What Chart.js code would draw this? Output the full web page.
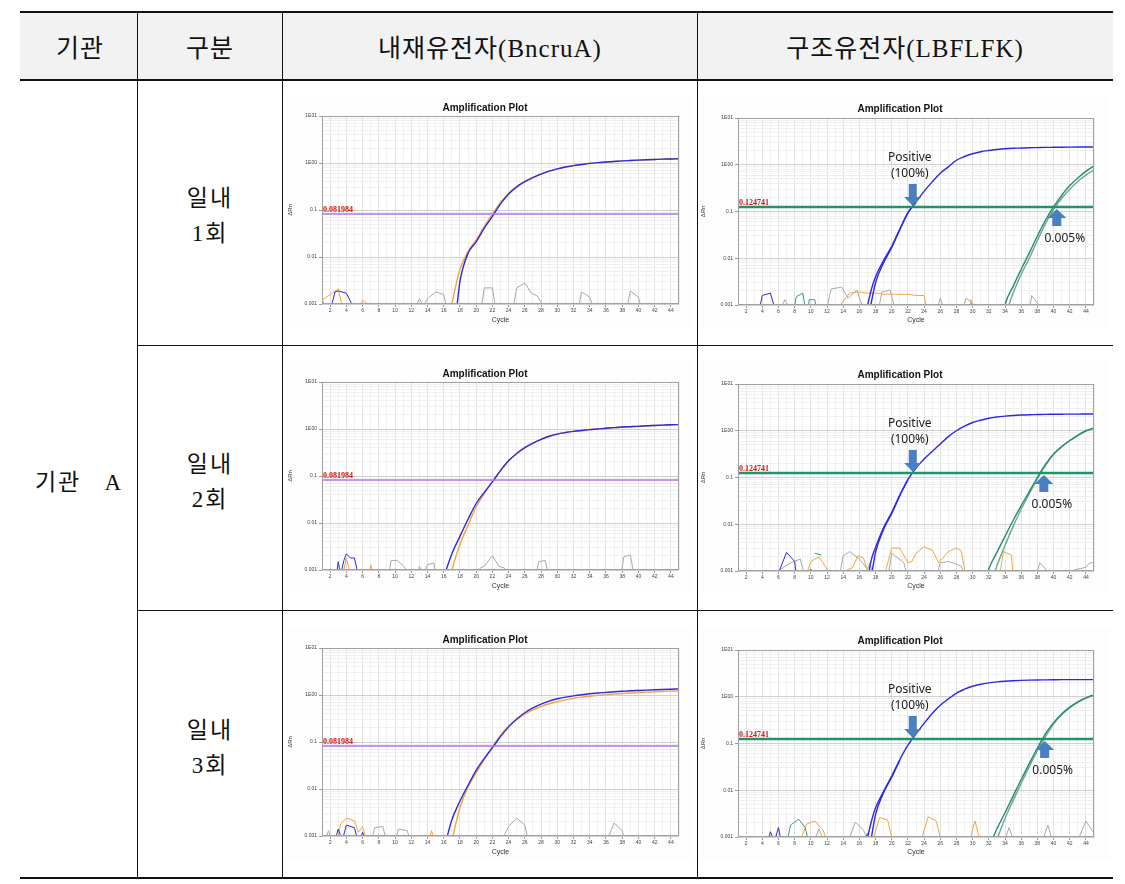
<!DOCTYPE html>
<html><head><meta charset="utf-8">
<script src="https://cdn.jsdelivr.net/npm/chart.js@4.4.1/dist/chart.umd.min.js"></script>
<style>
html,body{margin:0;padding:0;background:#fff;width:1125px;height:884px;overflow:hidden;}
.ln{position:absolute;background:#111;}
.txt{position:absolute;transform:translate(-50%,-50%);white-space:nowrap;font-family:"Liberation Serif","Noto Sans CJK KR",serif;color:#111;}
.hd{font-size:25px;letter-spacing:1px;}
.bd{font-size:23px;letter-spacing:2px;}
.cv{position:absolute;}
</style></head><body>
<div style="position:absolute;left:20px;top:12px;width:1093px;height:68px;background:#f2f2f2"></div>
<div class="ln" style="left:20px;top:11px;width:1093px;height:2px"></div>
<div class="ln" style="left:20px;top:79px;width:1093px;height:2px"></div>
<div class="ln" style="left:20px;top:877px;width:1093px;height:2px"></div>
<div class="ln" style="left:137px;top:12px;width:1px;height:866px"></div>
<div class="ln" style="left:282px;top:12px;width:1px;height:866px"></div>
<div class="ln" style="left:697px;top:12px;width:1px;height:866px"></div>
<div class="ln" style="left:138px;top:345px;width:975px;height:1px"></div>
<div class="ln" style="left:138px;top:610px;width:975px;height:1px"></div>

<div class="txt hd" style="left:80px;top:46px">기관</div>
<div class="txt hd" style="left:210px;top:46px">구분</div>
<div class="txt hd" style="left:490px;top:46px">내재유전자(BncruA)</div>
<div class="txt hd" style="left:905px;top:46px">구조유전자(LBFLFK)</div>
<div class="txt bd" style="left:79px;top:480px">기관&nbsp;&nbsp;&nbsp;A</div>
<div class="txt bd" style="left:210px;top:196px">일내</div>
<div class="txt bd" style="left:210px;top:231px">1회</div>
<div class="txt bd" style="left:210px;top:462px">일내</div>
<div class="txt bd" style="left:210px;top:497px">2회</div>
<div class="txt bd" style="left:210px;top:728px">일내</div>
<div class="txt bd" style="left:210px;top:763px">3회</div>

<canvas id="c1l" class="cv" width="406" height="232" style="left:287px;top:95px"></canvas>
<canvas id="c1r" class="cv" width="410" height="232" style="left:700px;top:95px"></canvas>
<canvas id="c2l" class="cv" width="406" height="232" style="left:287px;top:361px"></canvas>
<canvas id="c2r" class="cv" width="410" height="232" style="left:700px;top:361px"></canvas>
<canvas id="c3l" class="cv" width="406" height="232" style="left:287px;top:627px"></canvas>
<canvas id="c3r" class="cv" width="410" height="232" style="left:700px;top:627px"></canvas>

<script>
// ---------- axes ----------
const CYCLE_MIN = 1, CYCLE_MAX = 45;
const X_LABELED = [2,4,6,8,10,12,14,16,18,20,22,24,26,28,30,32,34,36,38,40,42,44];
const Y_MAJOR = [0.001,0.01,0.1,1,10];
const Y_MAJOR_LABELS = ['0.001','0.01','0.1','1E00','1E01'];
const Y_MINOR = [0.002,0.003,0.004,0.005,0.006,0.007,0.008,0.009,0.02,0.03,0.04,0.05,0.06,0.07,0.08,0.09,0.2,0.3,0.4,0.5,0.6,0.7,0.8,0.9,2,3,4,5,6,7,8,9];
const THRESHOLD_BNCRUA = 0.081984;
const THRESHOLD_LBFLFK = 0.124741;
const THRESHOLD_BNCRUA_LABEL = '0.081984';
const THRESHOLD_LBFLFK_LABEL = '0.124741';
const POSITIVE_ARROW_CYCLE = [22.6, 22.6, 22.6];
const LOW_ARROW_CYCLE = [40.4, 38.8, 38.9];

// ---------- row 1 ----------
const R1L_BLUE = [[17.6,0.0008],[18,0.003],[19,0.012],[20,0.021],[21,0.041],[22,0.073],[23,0.135],[24,0.22],[25,0.31],[26,0.40],[27,0.49],[28,0.58],[29,0.67],[30,0.75],[31,0.82],[32,0.88],[33,0.93],[34,0.98],[35,1.02],[36,1.05],[37,1.08],[38,1.11],[39,1.13],[40,1.15],[41,1.17],[42,1.19],[43,1.21],[44,1.22],[45,1.23]];
const R1L_ORANGE = [[16.9,0.0008],[17.5,0.0025],[18,0.0055],[19,0.013],[20,0.023],[21,0.045],[22,0.082],[23,0.145],[24,0.225],[25,0.315],[26,0.405],[27,0.495],[28,0.585],[29,0.67],[30,0.75],[31,0.82],[32,0.88],[33,0.93],[34,0.98],[35,1.02],[36,1.05],[37,1.08],[38,1.11],[39,1.13],[40,1.15],[41,1.17],[42,1.19],[43,1.21],[44,1.22],[45,1.23]];
const R1L_NOISE_BLUE = [[1,0.0013],[1.3,0.0008],[2,0.0007],[2.6,0.0018],[3,0.0019],[4,0.0017],[4.8,0.0009]];
const R1L_NOISE_ORANGE = [[1,0.0012],[2,0.0016],[3,0.0021],[3.5,0.0009],[5.5,0.0008],[6,0.0012],[7,0.0009]];
const R1L_NOISE_GRAY = [[12.5,0.0008],[13,0.0013],[13.5,0.0009],[14,0.0013],[15,0.0018],[16,0.0016],[16.5,0.0007],[20.5,0.0006],[21,0.0022],[22,0.0022],[22.5,0.0006],[24.5,0.0007],[25,0.0022],[26,0.0028],[26.8,0.0017],[27.5,0.0015],[28,0.0011],[28.5,0.0006],[32.5,0.0007],[33,0.0018],[34,0.0014],[34.5,0.0008],[38.5,0.0007],[39,0.0019],[40,0.0014],[40.3,0.0009]];

const R1R_BLUE = [[16.9,0.0008],[17.5,0.0022],[18,0.004],[19,0.009],[20,0.018],[21,0.042],[22,0.095],[23,0.16],[24,0.27],[25,0.43],[26,0.66],[27,0.9],[28,1.25],[29,1.5],[30,1.72],[31,1.9],[32,2.02],[33,2.12],[34,2.2],[35,2.25],[36,2.28],[37,2.31],[38,2.33],[39,2.35],[40,2.36],[41,2.37],[42,2.38],[43,2.39],[44,2.4],[45,2.4]];
const R1R_BLUE2 = [[17.3,0.0008],[18,0.003],[19,0.008],[20,0.017],[21,0.041],[22,0.092],[23,0.158]];
const R1R_GREEN1 = [[33.9,0.0008],[34,0.001],[35,0.0025],[36,0.0058],[37,0.013],[38,0.03],[39,0.065],[40,0.125],[41,0.22],[42,0.36],[43,0.52],[44,0.72],[45,0.95]];
const R1R_GREEN2 = [[34.3,0.0008],[35,0.0018],[36,0.0045],[37,0.01],[38,0.024],[39,0.055],[40,0.11],[41,0.19],[42,0.3],[43,0.44],[44,0.6],[45,0.78]];
const R1R_NOISE_BLUE = [[3.5,0.0006],[4,0.0016],[5,0.0018],[5.8,0.0006]];
const R1R_NOISE_TEAL = [[7.8,0.0006],[8.2,0.0015],[9,0.0018],[9.5,0.0006],[9.6,0.0006],[9.8,0.0013],[10.5,0.0013],[10.8,0.0006]];
const R1R_NOISE_GRAY = [[5.8,0.0006],[6.8,0.0013],[7.6,0.0007],[11.8,0.0006],[12.5,0.0022],[13.8,0.0024],[14.6,0.0014],[15.7,0.0021],[16.6,0.0007],[18.3,0.0007],[18.8,0.0019],[19.8,0.0021],[20.5,0.0007],[25.5,0.0007],[26,0.0014],[26.6,0.0007],[28.7,0.0007],[29.2,0.0014],[30,0.0011],[30.3,0.0006],[37,0.0007],[37.3,0.0016],[38,0.0011],[38.3,0.0007]];
const R1R_NOISE_ORANGE = [[13,0.0007],[14,0.0012],[14.8,0.0018],[16,0.0019],[17,0.0018],[18,0.0018],[19,0.0017],[20,0.0017],[21,0.0017],[22,0.0017],[23,0.0016],[24,0.0016],[24.5,0.0006],[29.5,0.0006],[29.8,0.0013],[30,0.0006],[35.2,0.0009],[36,0.0009],[36.2,0.0006]];

// ---------- row 2 ----------
const R2L_BLUE = [[16.1,0.0008],[17,0.0022],[18,0.0052],[19,0.012],[20,0.026],[21,0.045],[22,0.075],[23,0.13],[24,0.21],[25,0.3],[26,0.4],[27,0.5],[28,0.6],[29,0.7],[30,0.78],[31,0.84],[32,0.89],[33,0.93],[34,0.97],[35,1.0],[36,1.04],[37,1.07],[38,1.1],[39,1.12],[40,1.14],[41,1.17],[42,1.19],[43,1.21],[44,1.23],[45,1.24]];
const R2L_ORANGE = [[16.9,0.0008],[17.3,0.0015],[18,0.0035],[19,0.009],[20,0.022],[21,0.042],[22,0.075],[23,0.13],[24,0.21],[25,0.3],[26,0.4],[27,0.5],[28,0.6],[29,0.7],[30,0.78],[31,0.84],[32,0.89],[33,0.93],[34,0.97],[35,1.0],[36,1.04],[37,1.07],[38,1.1],[39,1.12],[40,1.14],[41,1.17],[42,1.19],[43,1.21],[44,1.23],[45,1.24]];
const R2L_NOISE_BLUE = [[2.7,0.0006],[3,0.0015],[3.3,0.0008],[3.7,0.0016],[4,0.0022],[4.5,0.0018],[5,0.0018],[5.6,0.0006]];
const R2L_NOISE_ORANGE = [[3.5,0.0007],[4,0.0018],[4.6,0.0007],[6.8,0.0007],[7,0.0013],[7.4,0.0007]];
const R2L_NOISE_GRAY = [[9.2,0.0007],[9.5,0.0016],[10.3,0.0016],[11.3,0.0011],[11.8,0.0007],[12.7,0.0007],[13,0.0012],[13.5,0.0008],[14,0.0013],[14.8,0.0014],[15,0.0007],[20,0.0007],[20.5,0.0011],[21,0.0012],[22,0.002],[22.8,0.0012],[23.5,0.0011],[23.8,0.0007],[27.3,0.0007],[27.7,0.0015],[28.5,0.0016],[29,0.0007],[37.8,0.0007],[38.2,0.0019],[39,0.0021],[39.5,0.0007]];

const R2R_BLUE = [[17.1,0.0008],[17.5,0.0018],[18,0.0032],[19,0.0085],[20,0.018],[21,0.042],[22,0.09],[23,0.16],[24,0.25],[25,0.36],[26,0.52],[27,0.75],[28,1.0],[29,1.25],[30,1.5],[31,1.68],[32,1.85],[33,1.97],[34,2.05],[35,2.12],[36,2.17],[37,2.2],[38,2.22],[39,2.24],[40,2.25],[41,2.26],[42,2.27],[43,2.27],[44,2.28],[45,2.28]];
const R2R_BLUE2 = [[17.5,0.0008],[18,0.0025],[19,0.0078],[20,0.017],[21,0.041],[22,0.089]];
const R2R_GREEN1 = [[31.8,0.0008],[32,0.0011],[33,0.0025],[34,0.0055],[35,0.012],[36,0.025],[37,0.05],[38,0.1],[39,0.19],[40,0.32],[41,0.46],[42,0.62],[43,0.8],[44,1.0],[45,1.15]];
const R2R_GREEN2 = [[32.6,0.0008],[33,0.0013],[34,0.0035],[35,0.009],[36,0.021],[37,0.045],[38,0.095],[39,0.18],[40,0.31],[41,0.45],[42,0.61],[43,0.79],[44,0.98],[45,1.13]];
const R2R_NOISE_BLUE = [[5.6,0.0006],[7,0.0025],[8,0.0016],[8.3,0.0006],[9.6,0.0006],[10,0.0011],[10.3,0.0006]];
const R2R_NOISE_TEAL = [[10.5,0.0024],[11.3,0.0022]];
const R2R_NOISE_GRAY = [[4.5,0.0007],[7.5,0.0015],[8.7,0.0018],[9.4,0.0006],[13.5,0.0007],[14,0.0021],[14.8,0.0026],[16,0.0018],[17,0.0011],[17.3,0.0015],[17.8,0.0007],[19.5,0.0007],[20,0.0024],[21.5,0.0015],[22,0.0007],[25.5,0.0007],[26,0.0015],[27,0.0016],[28.5,0.0013],[29.4,0.0007],[37.8,0.0007],[38.3,0.0015],[39,0.0011],[39.3,0.0007],[43,0.0011],[44,0.0012],[44.5,0.0015],[45,0.0015]];
const R2R_NOISE_ORANGE = [[9.3,0.0007],[10,0.0016],[11,0.002],[12,0.0011],[12.3,0.0007],[15.2,0.0012],[15.8,0.0021],[16.5,0.0019],[17.3,0.0007],[19,0.0007],[20,0.0031],[21,0.0031],[22,0.0015],[22.5,0.0016],[23,0.0024],[24,0.0033],[25,0.0028],[25.8,0.0015],[27,0.0026],[28,0.0031],[28.6,0.0027],[29.2,0.0007],[33.3,0.0007],[33.8,0.0026],[34.8,0.0022],[35,0.0007]];

// ---------- row 3 ----------
const R3L_BLUE = [[16.3,0.0008],[17,0.0022],[18,0.0055],[19,0.012],[20,0.025],[21,0.045],[22,0.075],[23,0.13],[24,0.21],[25,0.31],[26,0.42],[27,0.53],[28,0.64],[29,0.74],[30,0.83],[31,0.9],[32,0.96],[33,1.01],[34,1.06],[35,1.1],[36,1.14],[37,1.17],[38,1.2],[39,1.23],[40,1.25],[41,1.27],[42,1.29],[43,1.31],[44,1.33],[45,1.35]];
const R3L_ORANGE = [[17,0.0008],[18,0.004],[19,0.011],[20,0.022],[21,0.042],[22,0.08],[23,0.14],[24,0.22],[25,0.3],[26,0.39],[27,0.48],[28,0.57],[29,0.65],[30,0.72],[31,0.79],[32,0.85],[33,0.9],[34,0.94],[35,0.98],[36,1.02],[37,1.05],[38,1.08],[39,1.1],[40,1.13],[41,1.15],[42,1.17],[43,1.19],[44,1.21],[45,1.22]];
const R3L_NOISE_BLUE = [[2.5,0.0007],[3,0.0014],[3.5,0.0008],[4,0.0017],[5,0.0015],[5.5,0.0007],[6,0.0012],[6.5,0.0007]];
const R3L_NOISE_ORANGE = [[2.8,0.0007],[3.3,0.0018],[4,0.0024],[5,0.0021],[5.5,0.0012],[6,0.0016],[6.6,0.0007],[14,0.0007],[14.5,0.0013],[15,0.0007]];
const R3L_NOISE_GRAY = [[1.3,0.0007],[1.8,0.0013],[2.3,0.0007],[7,0.0007],[7.5,0.0015],[8.5,0.0016],[9,0.0007],[10,0.0007],[10.4,0.0014],[11.5,0.0013],[12,0.0007],[23,0.0007],[24,0.0016],[25,0.0024],[26,0.0017],[26.5,0.0007],[36,0.0007],[37,0.0019],[38,0.0013],[38.4,0.0007]];

const R3R_BLUE = [[16.9,0.0008],[17.5,0.0022],[18,0.0042],[19,0.0095],[20,0.02],[21,0.045],[22,0.092],[23,0.16],[24,0.27],[25,0.44],[26,0.66],[27,0.9],[28,1.2],[29,1.45],[30,1.68],[31,1.85],[32,1.98],[33,2.08],[34,2.15],[35,2.2],[36,2.24],[37,2.27],[38,2.29],[39,2.3],[40,2.31],[41,2.32],[42,2.32],[43,2.33],[44,2.33],[45,2.33]];
const R3R_BLUE2 = [[17.4,0.0008],[18,0.003],[19,0.009],[20,0.019],[21,0.044]];
const R3R_GREEN1 = [[32.3,0.0008],[33,0.0015],[34,0.0033],[35,0.0075],[36,0.017],[37,0.037],[38,0.08],[39,0.16],[40,0.28],[41,0.43],[42,0.6],[43,0.78],[44,0.95],[45,1.1]];
const R3R_GREEN2 = [[32.9,0.0008],[33.5,0.0015],[34,0.0025],[35,0.006],[36,0.014],[37,0.032],[38,0.07],[39,0.14],[40,0.26],[41,0.41],[42,0.58],[43,0.76],[44,0.93],[45,1.08]];
const R3R_NOISE_BLUE = [[4.6,0.0007],[5,0.0013],[5.5,0.0008],[6,0.0016],[6.4,0.0007],[16.5,0.0007],[17,0.0012]];
const R3R_NOISE_TEAL = [[7,0.0007],[7.5,0.0018],[8.5,0.0024],[9.3,0.0016],[9.8,0.0007]];
const R3R_NOISE_ORANGE = [[8.5,0.0007],[9.5,0.0019],[10.5,0.0022],[11.5,0.0014],[12.2,0.0007],[17.5,0.0007],[18.5,0.0026],[19.5,0.0023],[20.2,0.0007],[23.5,0.0007],[24.5,0.0027],[25.5,0.0022],[26.2,0.0007],[29.5,0.0007],[30.3,0.0022],[31,0.0007]];
const R3R_NOISE_GRAY = [[10.3,0.0007],[11,0.0015],[11.8,0.0007],[14.5,0.0007],[15.5,0.0021],[16.5,0.0014],[17.3,0.0007],[33.8,0.0007],[34.5,0.0016],[35.2,0.0007],[38.5,0.0007],[39.3,0.0018],[40,0.0007],[42.8,0.0007],[44,0.0022],[45,0.0012]];

// ---------- drawing ----------
const C_BLUE = '#2a2ae0', C_ORANGE = '#f3a640', C_GRAY = '#a9a9a9', C_TEAL = '#34a080',
      C_GREEN1 = '#2b8a6c', C_GREEN2 = '#6aa895', C_ARROW = '#4a7fc1';

const plotPlugin = {
  id: 'plotDeco',
  beforeDraw(chart) {
    const {ctx, width, height, chartArea: a} = chart;
    ctx.save();
    ctx.fillStyle = '#fdfdfd'; ctx.fillRect(0, 0, width, height);
    ctx.fillStyle = '#ffffff'; ctx.fillRect(a.left, a.top, a.right - a.left, a.bottom - a.top);
    ctx.restore();
  },
  afterDatasetsDraw(chart, args, o) {
    const {ctx, chartArea: a} = chart;
    const xs = chart.scales.x, ys = chart.scales.y;
    ctx.save();
    ctx.strokeStyle = '#a0a0a0'; ctx.lineWidth = 1;
    ctx.strokeRect(a.left + 0.5, a.top + 0.5, a.right - a.left - 1, a.bottom - a.top - 1);
    const ty = ys.getPixelForValue(o.threshold);
    ctx.fillStyle = '#e01010';
    ctx.font = 'bold 8px "Liberation Serif"';
    ctx.textAlign = 'left'; ctx.textBaseline = 'alphabetic';
    ctx.fillText(o.thrLabel, a.left + 1, ty - 2);
    if (o.posX != null) {
      const x = xs.getPixelForValue(o.posX);
      ctx.fillStyle = C_ARROW;
      ctx.beginPath();
      ctx.rect(x - 4, ty - 23, 8, 14);
      ctx.fill();
      ctx.beginPath();
      ctx.moveTo(x - 8.5, ty - 10); ctx.lineTo(x + 8.5, ty - 10); ctx.lineTo(x, ty - 1); ctx.closePath(); ctx.fill();
      ctx.fillStyle = '#1a1a1a';
      ctx.font = '12px "Noto Sans"';
      ctx.textAlign = 'center'; ctx.textBaseline = 'middle';
      ctx.fillText('Positive', x - 3, ty - 49);
      ctx.fillText('(100%)', x - 3, ty - 33);
    }
    if (o.lowX != null) {
      const x = xs.getPixelForValue(o.lowX);
      ctx.fillStyle = C_ARROW;
      ctx.beginPath();
      ctx.moveTo(x - 9.5, ty + 11); ctx.lineTo(x + 9.5, ty + 11); ctx.lineTo(x, ty + 2); ctx.closePath(); ctx.fill();
      ctx.fillRect(x - 4.5, ty + 10, 9, 9);
      ctx.fillStyle = '#1a1a1a';
      ctx.font = '12px "Noto Sans"';
      ctx.textAlign = 'center'; ctx.textBaseline = 'middle';
      ctx.fillText('0.005%', x + 8, ty + 32);
    }
    ctx.restore();
  },
  afterDraw(chart, args, o) {
    const ctx = chart.ctx;
    ctx.save();
    ctx.fillStyle = '#111';
    ctx.font = 'bold 10px "Liberation Sans"';
    ctx.textAlign = 'center'; ctx.textBaseline = 'middle';
    ctx.fillText('Amplification Plot', chart.width / 2 - 5, o.titleY);
    ctx.restore();
  }
};

function line(data, color, width, smooth) {
  return { data, borderColor: color, borderWidth: width, pointRadius: 0,
           tension: 0, cubicInterpolationMode: smooth ? 'monotone' : 'default', fill: false };
}

function makeChart(id, right, threshold, thrLabel, curves, noise, posX, lowX) {
  const ds = [];
  ds.push(line([[CYCLE_MIN, threshold], [CYCLE_MAX, threshold]], right ? '#1f9468' : '#b472f2', right ? 2.5 : 1.5, false));
  curves.forEach(c => ds.push(line(c[0], c[1], 1.4, true)));
  noise.forEach(n => ds.push(line(n[0], n[1], 1, false)));
  const yw = right ? 38 : 35, xh = right ? 22 : 23;
  return new Chart(document.getElementById(id), {
    type: 'line',
    data: { datasets: ds },
    plugins: [plotPlugin],
    options: {
      responsive: false, animation: false, devicePixelRatio: 1,
      layout: { padding: { top: right ? 23 : 21, right: right ? 16 : 14, left: 0, bottom: 0 } },
      plugins: { legend: { display: false }, tooltip: { enabled: false },
        plotDeco: { threshold, thrLabel, posX, lowX, titleY: right ? 14 : 13 } },
      scales: {
        x: {
          type: 'linear', min: CYCLE_MIN, max: CYCLE_MAX,
          afterBuildTicks: axis => {
            const t = [];
            for (let c = CYCLE_MIN; c <= CYCLE_MAX; c++) t.push({ value: c });
            axis.ticks = t;
          },
          afterFit: axis => { axis.height = xh; },
          ticks: { autoSkip: false, maxRotation: 0, minRotation: 0, padding: 1,
                   font: { size: 5, family: '"Liberation Sans"' }, color: '#444',
                   callback: v => X_LABELED.includes(v) ? String(v) : '' },
          grid: { color: c => (c.tick && c.tick.value % 2 === 0) ? '#e2e2e2' : '#efefef',
                  tickLength: 3, tickColor: c => (c.tick && c.tick.value % 2 === 0) ? '#999' : 'rgba(0,0,0,0)' },
          border: { display: false },
          title: { display: true, text: 'Cycle', color: '#333', font: { size: 7, family: '"Liberation Sans"' },
                   padding: { top: 0, bottom: 3 } }
        },
        y: {
          type: 'logarithmic', min: 0.001, max: 10,
          afterBuildTicks: axis => {
            axis.ticks = Y_MAJOR.concat(Y_MINOR).sort((a, b) => a - b).map(v => ({ value: v }));
          },
          afterFit: axis => { axis.width = yw; },
          ticks: { autoSkip: false, padding: 2, font: { size: 5, family: '"Liberation Sans"' }, color: '#444',
                   callback: v => { const i = Y_MAJOR.findIndex(m => Math.abs(m - v) < m * 1e-6); return i >= 0 ? Y_MAJOR_LABELS[i] : ''; } },
          grid: { color: c => (c.tick && Y_MAJOR.some(m => Math.abs(m - c.tick.value) < m * 1e-6)) ? '#cfcfcf' : '#efefef',
                  tickLength: 3,
                  tickColor: c => (c.tick && Y_MAJOR.some(m => Math.abs(m - c.tick.value) < m * 1e-6)) ? '#999' : 'rgba(0,0,0,0)' },
          border: { display: false },
          title: { display: true, text: 'ΔRn', color: '#333', font: { size: 6, family: '"Liberation Sans"' },
                   padding: { top: 0, bottom: 6 } }
        }
      }
    }
  });
}

makeChart('c1l', false, THRESHOLD_BNCRUA, THRESHOLD_BNCRUA_LABEL,
  [[R1L_BLUE, C_BLUE], [R1L_ORANGE, C_ORANGE]],
  [[R1L_NOISE_BLUE, C_BLUE], [R1L_NOISE_ORANGE, C_ORANGE], [R1L_NOISE_GRAY, C_GRAY]], null, null);
makeChart('c1r', true, THRESHOLD_LBFLFK, THRESHOLD_LBFLFK_LABEL,
  [[R1R_BLUE, C_BLUE], [R1R_BLUE2, C_BLUE], [R1R_GREEN1, C_GREEN1], [R1R_GREEN2, C_GREEN2]],
  [[R1R_NOISE_BLUE, C_BLUE], [R1R_NOISE_TEAL, C_TEAL], [R1R_NOISE_GRAY, C_GRAY], [R1R_NOISE_ORANGE, C_ORANGE]],
  POSITIVE_ARROW_CYCLE[0], LOW_ARROW_CYCLE[0]);
makeChart('c2l', false, THRESHOLD_BNCRUA, THRESHOLD_BNCRUA_LABEL,
  [[R2L_BLUE, C_BLUE], [R2L_ORANGE, C_ORANGE]],
  [[R2L_NOISE_BLUE, C_BLUE], [R2L_NOISE_ORANGE, C_ORANGE], [R2L_NOISE_GRAY, C_GRAY]], null, null);
makeChart('c2r', true, THRESHOLD_LBFLFK, THRESHOLD_LBFLFK_LABEL,
  [[R2R_BLUE, C_BLUE], [R2R_BLUE2, C_BLUE], [R2R_GREEN1, C_GREEN1], [R2R_GREEN2, C_GREEN2]],
  [[R2R_NOISE_BLUE, C_BLUE], [R2R_NOISE_TEAL, C_TEAL], [R2R_NOISE_GRAY, C_GRAY], [R2R_NOISE_ORANGE, C_ORANGE]],
  POSITIVE_ARROW_CYCLE[1], LOW_ARROW_CYCLE[1]);
makeChart('c3l', false, THRESHOLD_BNCRUA, THRESHOLD_BNCRUA_LABEL,
  [[R3L_BLUE, C_BLUE], [R3L_ORANGE, C_ORANGE]],
  [[R3L_NOISE_BLUE, C_BLUE], [R3L_NOISE_ORANGE, C_ORANGE], [R3L_NOISE_GRAY, C_GRAY]], null, null);
makeChart('c3r', true, THRESHOLD_LBFLFK, THRESHOLD_LBFLFK_LABEL,
  [[R3R_BLUE, C_BLUE], [R3R_BLUE2, C_BLUE], [R3R_GREEN1, C_GREEN1], [R3R_GREEN2, C_GREEN2]],
  [[R3R_NOISE_BLUE, C_BLUE], [R3R_NOISE_TEAL, C_TEAL], [R3R_NOISE_GRAY, C_GRAY], [R3R_NOISE_ORANGE, C_ORANGE]],
  POSITIVE_ARROW_CYCLE[2], LOW_ARROW_CYCLE[2]);
</script>
</body></html>
